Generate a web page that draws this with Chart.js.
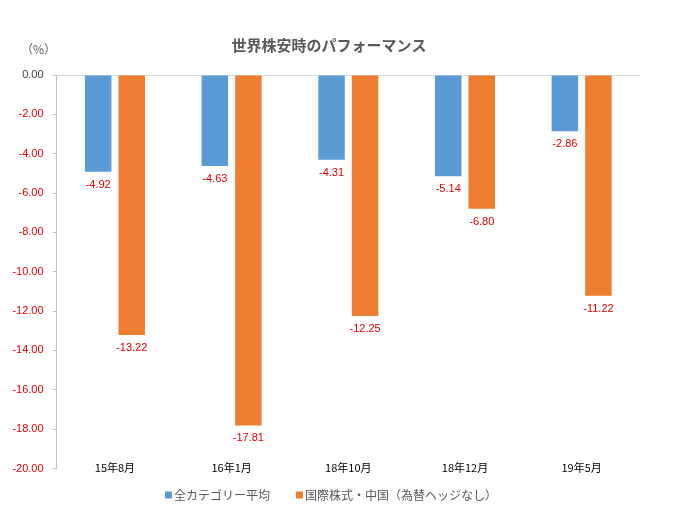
<!DOCTYPE html>
<html>
<head>
<meta charset="utf-8">
<script src="https://cdn.jsdelivr.net/npm/chart.js@4.4.1/dist/chart.umd.min.js"></script>
<style>
  html, body { margin: 0; padding: 0; background: #fff; }
  #wrap { width: 692px; height: 529px; }
</style>
</head>
<body>
<div id="wrap"><canvas id="perfChart"></canvas></div>
<script>
const chartTitle = '世界株安時のパフォーマンス';
const categories = ['15年8月', '16年1月', '18年10月', '18年12月', '19年5月'];
const allAverage = [-4.92, -4.63, -4.31, -5.14, -2.86];
const chinaEquity = [-13.22, -17.81, -12.25, -6.80, -11.22];
const seriesNames = ['全カテゴリー平均', '国際株式・中国（為替ヘッジなし）'];
const seriesColors = ['#5B9BD5', '#ED7D31'];
const yTicks = [0, -2, -4, -6, -8, -10, -12, -14, -16, -18, -20];

const jpFont = "'Noto Sans CJK JP', 'Noto Sans', sans-serif";
const numFont = "'Liberation Sans', Arial, sans-serif";

// title, value labels, category names, unit and legend (Excel style placement)
const extraText = {
    id: 'extraText',
    afterDraw(chart) {
        const ctx = chart.ctx;
        const area = chart.chartArea;
        const xScale = chart.scales.x;
        ctx.save();
        ctx.textAlign = 'center';
        ctx.textBaseline = 'middle';

        ctx.font = 'bold 15px ' + jpFont;
        ctx.fillStyle = '#595959';
        ctx.fillText(chartTitle, 329, 45);

        ctx.font = '11px ' + numFont;
        ctx.fillStyle = '#E00000';
        chart.data.datasets.forEach(function(ds, i) {
            chart.getDatasetMeta(i).data.forEach(function(bar, j) {
                ctx.fillText(ds.data[j].toFixed(2), bar.x, bar.y + 13);
            });
        });

        ctx.font = '11px ' + jpFont;
        ctx.fillStyle = '#000';
        chart.data.labels.forEach(function(lbl, i) {
            ctx.fillText(lbl, xScale.getPixelForValue(i), area.bottom - 1);
        });

        ctx.font = '12px ' + jpFont;
        ctx.fillStyle = '#595959';
        ctx.fillText('（%）', 38.5, 49);

        // legend
        const boxSize = 7, boxGap = 2, itemGap = 26;
        const widths = chart.data.datasets.map(function(ds) { return ctx.measureText(ds.label).width; });
        let total = 0;
        widths.forEach(function(w) { total += boxSize + boxGap + w; });
        total += itemGap * (widths.length - 1);
        let x = 331 - total / 2;
        const y = 495;
        ctx.textAlign = 'left';
        chart.data.datasets.forEach(function(ds, i) {
            ctx.fillStyle = ds.backgroundColor;
            ctx.fillRect(x, y - 3.5, boxSize, boxSize);
            ctx.fillStyle = '#595959';
            ctx.fillText(ds.label, x + boxSize + boxGap, y);
            x += boxSize + boxGap + widths[i] + itemGap;
        });
        ctx.restore();
    }
};

new Chart(document.getElementById('perfChart'), {
    type: 'bar',
    data: {
        labels: categories,
        datasets: [
            { label: seriesNames[0], data: allAverage, backgroundColor: seriesColors[0] },
            { label: seriesNames[1], data: chinaEquity, backgroundColor: seriesColors[1] }
        ]
    },
    options: {
        responsive: true,
        maintainAspectRatio: false,
        animation: false,
        events: [],
        categoryPercentage: 0.575,
        barPercentage: 0.79,
        layout: { padding: { left: 6, right: 52, top: 75, bottom: 60.5 } },
        plugins: {
            title: { display: false },
            legend: { display: false },
            tooltip: { enabled: false }
        },
        scales: {
            x: {
                grid: { display: false },
                border: { display: false },
                ticks: { display: false },
                afterFit(axis) { axis.height = 0; }
            },
            y: {
                min: -20,
                max: 0,
                afterBuildTicks(axis) {
                    axis.ticks = yTicks.map(function(v) { return { value: v }; });
                },
                afterFit(axis) { axis.width = 50.6; },
                grid: {
                    color: function(c) { return c.tick && c.tick.value === 0 ? '#D9D9D9' : 'rgba(0,0,0,0)'; },
                    tickColor: '#BFBFBF',
                    tickLength: 4
                },
                border: { display: true, color: '#BFBFBF' },
                ticks: {
                    padding: 9,
                    font: { family: numFont, size: 11 },
                    color: function(c) { return c.tick.value === 0 ? '#404040' : '#E00000'; },
                    callback: function(v) { return Number(v).toFixed(2); }
                }
            }
        }
    },
    plugins: [extraText]
});
</script>
</body>
</html>
